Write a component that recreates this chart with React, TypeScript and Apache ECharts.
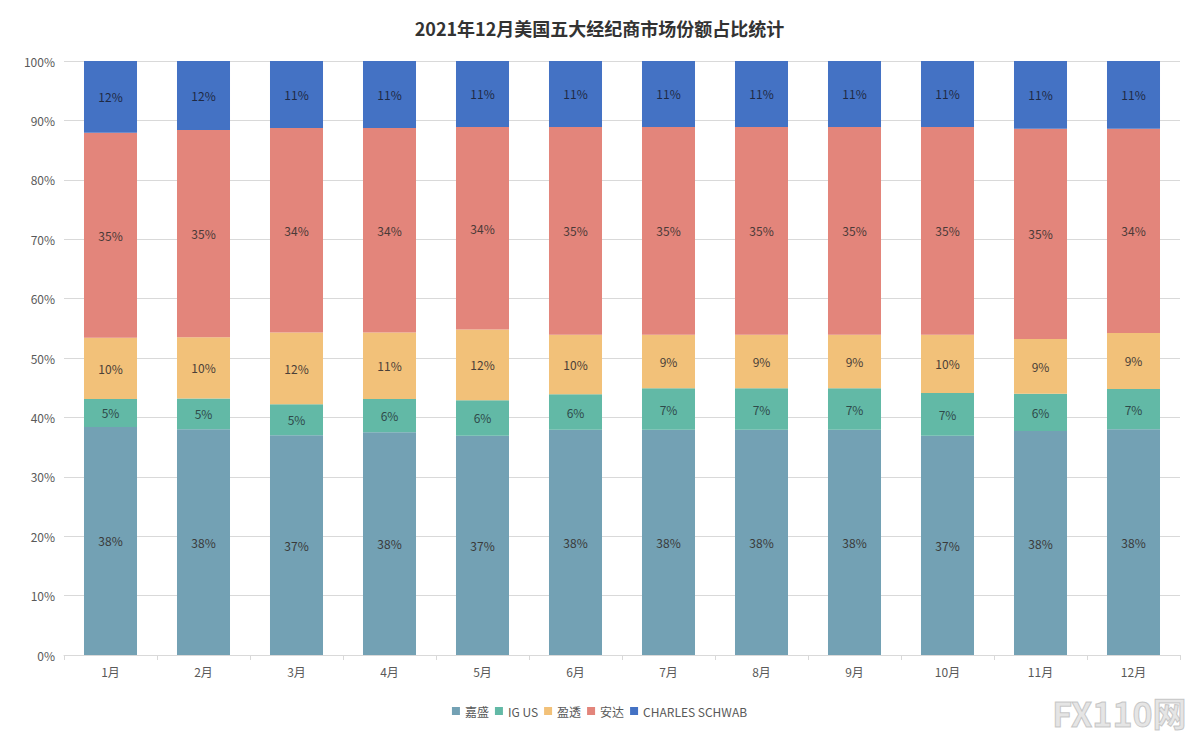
import React, { useEffect, useRef } from "react";
import * as echarts from "echarts";

const months = ["1月", "2月", "3月", "4月", "5月", "6月", "7月", "8月", "9月", "10月", "11月", "12月"];
const jiasheng = [38.4, 38.0, 37.0, 37.5, 36.9, 37.9, 37.9, 37.9, 37.9, 36.9, 37.7, 38.0];
const igus = [4.7, 5.2, 5.2, 5.6, 6.0, 6.0, 7.0, 7.0, 7.0, 7.2, 6.3, 6.8];
const yingtou = [10.3, 10.3, 12.1, 11.2, 11.9, 10.0, 9.0, 9.0, 9.0, 9.8, 9.2, 9.4];
const anda = [34.5, 34.9, 34.4, 34.4, 34.1, 35.0, 35.0, 35.0, 35.0, 35.0, 35.4, 34.4];
const schwab = [12.1, 11.6, 11.3, 11.3, 11.1, 11.1, 11.1, 11.1, 11.1, 11.1, 11.4, 11.4];

const seriesNames = ["嘉盛", "IG US", "盈透", "安达", "CHARLES SCHWAB"];
const seriesData = [jiasheng, igus, yingtou, anda, schwab];
const colors = ["#73a1b4", "#62b9a6", "#f2c179", "#e3857b", "#4472c4"];
const labelColors = ["#3a3a3a", "#2f4a4a", "#4a4038", "#4a3a38", "#1f2a44"];

const FONT = "'Noto Sans CJK SC', 'Noto Sans', sans-serif";

export default function App() {
  const ref = useRef<HTMLDivElement>(null);
  useEffect(() => {
    if (!ref.current) return;
    const chart = echarts.init(ref.current, null, { renderer: "svg" });
    chart.setOption({
      animation: false,
      backgroundColor: "#ffffff",
      textStyle: { fontFamily: FONT },
      title: {
        text: "2021年12月美国五大经纪商市场份额占比统计",
        left: "center",
        top: 14,
        textStyle: { fontSize: 18, fontWeight: "bold", color: "#333333", fontFamily: FONT },
      },
      legend: {
        bottom: 20,
        left: "center",
        itemWidth: 8,
        itemHeight: 8,
        itemGap: 6,
        icon: "rect",
        textStyle: { fontSize: 12, color: "#595959", fontFamily: FONT },
        data: seriesNames,
      },
      grid: { left: 64, right: 19, top: 61, bottom: 87 },
      xAxis: {
        type: "category",
        data: months,
        axisLine: { lineStyle: { color: "#d9d9d9" } },
        axisTick: { show: true, length: 5, lineStyle: { color: "#d9d9d9" } },
        axisLabel: { color: "#595959", fontSize: 12, margin: 10 },
      },
      yAxis: {
        type: "value",
        min: 0,
        max: 100,
        interval: 10,
        axisLine: { show: false },
        axisTick: { show: false },
        axisLabel: { color: "#595959", fontSize: 12, formatter: "{value}%", margin: 9 },
        splitLine: { lineStyle: { color: "#d9d9d9" } },
      },
      series: seriesData.map((d, i) => ({
        name: seriesNames[i],
        type: "bar",
        stack: "total",
        barWidth: "57%",
        data: d,
        itemStyle: { color: colors[i] },
        label: {
          show: true,
          position: "inside",
          fontSize: 12,
          color: labelColors[i],
          formatter: (p: any) => Math.round(p.value) + "%",
        },
      })),
      graphic: [
        {
          type: "text",
          right: 12,
          bottom: 12,
          style: {
            text: "FX110网",
            fontSize: 34,
            fontWeight: "bold",
            fill: "rgba(180,180,180,0.35)",
            stroke: "rgba(150,150,150,0.5)",
            lineWidth: 1,
            fontFamily: FONT,
          },
        },
      ],
    });
    return () => chart.dispose();
  }, []);
  return (
    <div
      ref={ref}
      style={{ position: "fixed", left: 0, top: 0, width: 1199, height: 742 }}
    />
  );
}
